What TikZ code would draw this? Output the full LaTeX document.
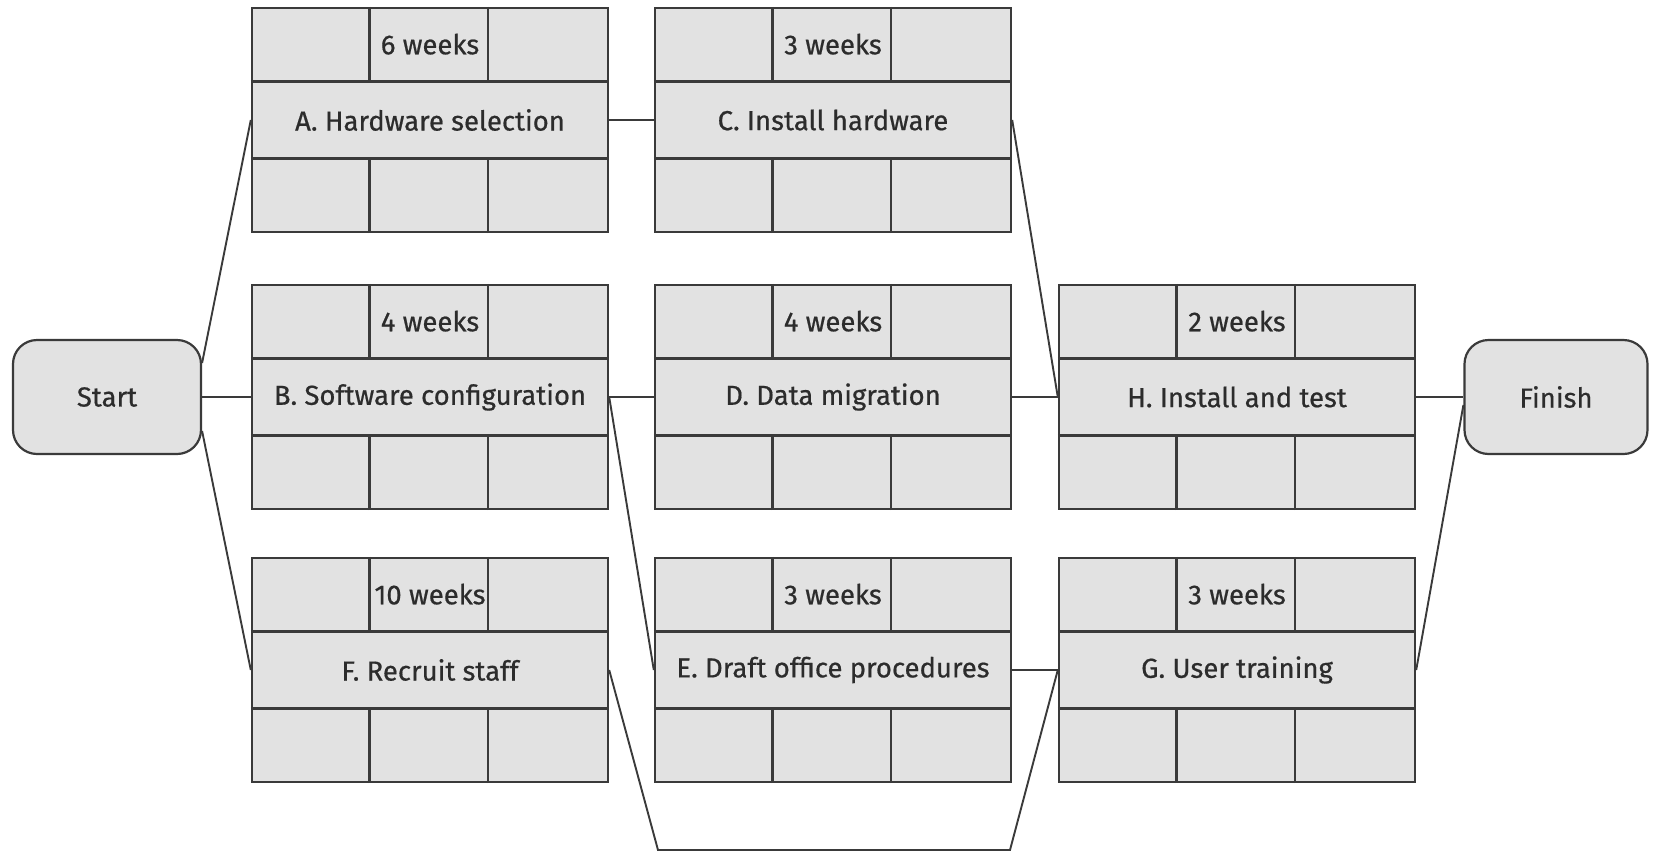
\documentclass[tikz,border=0pt]{standalone}
\usepackage{fontspec}
\setmainfont{Fira Sans}[FakeBold=0.6]
\usetikzlibrary{calc}
\definecolor{boxfill}{HTML}{E2E2E2}
\definecolor{edge}{HTML}{3A3A3A}
\definecolor{txt}{HTML}{2C2C2C}
\tikzset{
  x=1pt, y=-1pt,
  taskbox/.style={draw=edge, line width=2.4pt, fill=boxfill, minimum width=356pt,
    minimum height=224pt, inner sep=0pt, text=txt, font=\fontsize{27.5}{30}\selectfont},
  cellline/.style={draw=edge, line width=2.4pt},
  endbox/.style={draw=edge, line width=2.2pt, fill=boxfill, rounded corners=24pt,
    minimum width=188pt, minimum height=114pt, inner sep=0pt, text=txt,
    font=\fontsize{27.5}{30}\selectfont},
  durtext/.style={text=txt, inner sep=0pt, font=\fontsize{27.5}{30}\selectfont},
  link/.style={draw=edge, line width=1.9pt}
}
\newcommand\taskbox[5]{%
  \node[taskbox] (#1) at (#2,#3) {#4};
  \draw[cellline] ($(#1.north west)+(0,74.67)$) -- ($(#1.north east)+(0,74.67)$);
  \draw[cellline] ($(#1.south west)+(0,-74.67)$) -- ($(#1.south east)+(0,-74.67)$);
  \draw[cellline] ($(#1.north west)+(118.67,0)$) -- ($(#1.north west)+(118.67,74.67)$);
  \draw[cellline] ($(#1.north west)+(237.33,0)$) -- ($(#1.north west)+(237.33,74.67)$);
  \draw[cellline] ($(#1.south west)+(118.67,0)$) -- ($(#1.south west)+(118.67,-74.67)$);
  \draw[cellline] ($(#1.south west)+(237.33,0)$) -- ($(#1.south west)+(237.33,-74.67)$);
  \node[durtext] (#1dur) at ($(#1.north)+(0,37.33)$) {#5};
}
\begin{document}
\begin{tikzpicture}
\useasboundingbox (0,0) rectangle (1658,852);

\taskbox{A}{430}{120}{A. Hardware selection}{6 weeks}
\taskbox{C}{833}{120}{C. Install hardware}{3 weeks}
\taskbox{B}{430}{397}{B. Software configuration}{4 weeks}
\taskbox{D}{833}{397}{D. Data migration}{4 weeks}
\taskbox{H}{1237}{397}{H. Install and test}{2 weeks}
\taskbox{F}{430}{670}{F. Recruit staff}{10 weeks}
\taskbox{E}{833}{670}{E. Draft office procedures}{3 weeks}
\taskbox{G}{1237}{670}{G. User training}{3 weeks}

\node[endbox] (Start) at (107,397) {Start};
\node[endbox, minimum width=183pt] (Finish) at (1556,397) {Finish};

\coordinate (fgA) at (658,850);
\coordinate (fgB) at (1010,850);

\draw[link] ($(Start.east)+(0,-34)$) -- (A.west);
\draw[link] (Start.east) -- (B.west);
\draw[link] ($(Start.east)+(0,34)$) -- (F.west);
\draw[link] (A.east) -- (C.west);
\draw[link] (C.east) -- (H.west);
\draw[link] (B.east) -- (D.west);
\draw[link] (D.east) -- (H.west);
\draw[link] (B.east) -- (E.west);
\draw[link] (F.east) -- (fgA) -- (fgB) -- (G.west);
\draw[link] (E.east) -- (G.west);
\draw[link] (H.east) -- (Finish.west);
\draw[link] (G.east) -- ($(Finish.west)+(0,8)$);
\end{tikzpicture}
\end{document}
